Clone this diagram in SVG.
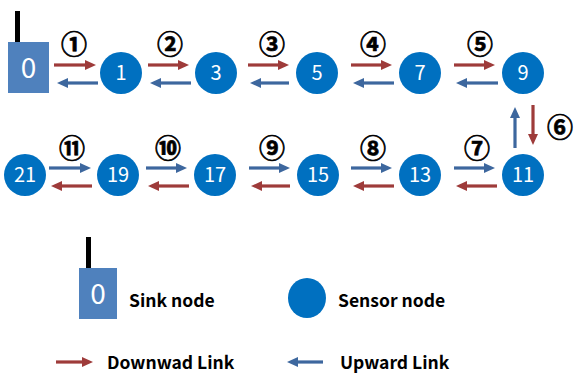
<svg xmlns="http://www.w3.org/2000/svg" width="574" height="374" viewBox="0 0 574 374">
<defs>
<marker id="hr" markerUnits="userSpaceOnUse" markerWidth="12" markerHeight="12" refX="0" refY="5" orient="auto" overflow="visible"><path d="M0,0 L11,5 L0,10 z" fill="#9E3B3A"/></marker>
<marker id="hb" markerUnits="userSpaceOnUse" markerWidth="12" markerHeight="12" refX="0" refY="5" orient="auto" overflow="visible"><path d="M0,0 L11,5 L0,10 z" fill="#3D679E"/></marker>
<style>
.dn{stroke:#9E3B3A;stroke-width:3.2;fill:none;marker-end:url(#hr)}
.up{stroke:#3D679E;stroke-width:3.2;fill:none;marker-end:url(#hb)}
.sn{fill:#0070C0}
.sink{fill:#4F81BD}
.ant{fill:#000}
.nt{font-family:"Noto Sans CJK KR","Noto Sans",sans-serif;font-size:20px;fill:#fff;text-anchor:middle}
.st{font-family:"Noto Sans CJK KR","Noto Sans",sans-serif;font-size:28px;fill:#fff;text-anchor:middle}
.cn{font-family:"Noto Sans CJK KR","DejaVu Sans",sans-serif;font-size:26px;font-weight:bold;fill:#000;stroke:#000;stroke-width:0.7;text-anchor:middle}
.lg{font-family:"Noto Sans CJK KR","Noto Sans",sans-serif;font-size:17.5px;font-weight:bold;fill:#000}
</style>
</defs>
<g id="sink0"><rect class="ant" x="15" y="11" width="5" height="31"/><rect class="sink" x="8" y="42" width="41" height="51"/><text class="st" x="28.5" y="78">0</text></g>
<g id="n1"><circle class="sn" cx="121" cy="73" r="21"/><text class="nt" x="121" y="80">1</text></g>
<g id="n3"><circle class="sn" cx="216" cy="73" r="21"/><text class="nt" x="216" y="80">3</text></g>
<g id="n5"><circle class="sn" cx="317" cy="73" r="21"/><text class="nt" x="317" y="80">5</text></g>
<g id="n7"><circle class="sn" cx="420" cy="73" r="21"/><text class="nt" x="420" y="80">7</text></g>
<g id="n9"><circle class="sn" cx="523" cy="73" r="21"/><text class="nt" x="523" y="80">9</text></g>
<g id="n21"><circle class="sn" cx="25" cy="175" r="21"/><text class="nt" x="25" y="182">21</text></g>
<g id="n19"><circle class="sn" cx="118" cy="175" r="21"/><text class="nt" x="118" y="182">19</text></g>
<g id="n17"><circle class="sn" cx="215" cy="175" r="21"/><text class="nt" x="215" y="182">17</text></g>
<g id="n15"><circle class="sn" cx="318" cy="175" r="21"/><text class="nt" x="318" y="182">15</text></g>
<g id="n13"><circle class="sn" cx="420" cy="175" r="21"/><text class="nt" x="420" y="182">13</text></g>
<g id="n11"><circle class="sn" cx="523" cy="175" r="21"/><text class="nt" x="523" y="182">11</text></g>
<g id="connectors">
<line class="dn" x1="54" y1="65" x2="85" y2="65"/><line class="up" x1="98" y1="83" x2="68" y2="83"/>
<line class="dn" x1="148" y1="65" x2="178" y2="65"/><line class="up" x1="191" y1="83" x2="161" y2="83"/>
<line class="dn" x1="248" y1="65" x2="278" y2="65"/><line class="up" x1="289" y1="83" x2="261" y2="83"/>
<line class="dn" x1="351" y1="65" x2="381" y2="65"/><line class="up" x1="394" y1="83" x2="364" y2="83"/>
<line class="dn" x1="454" y1="65" x2="484" y2="65"/><line class="up" x1="498" y1="83" x2="467" y2="83"/>
<line class="up" x1="515" y1="148" x2="515" y2="118"/><line class="dn" x1="533" y1="105" x2="533" y2="134"/>
<line class="up" x1="49" y1="168" x2="80" y2="168"/><line class="dn" x1="92" y1="186" x2="62" y2="186"/>
<line class="up" x1="146" y1="168" x2="176" y2="168"/><line class="dn" x1="189" y1="186" x2="159" y2="186"/>
<line class="up" x1="249" y1="168" x2="279" y2="168"/><line class="dn" x1="290" y1="186" x2="262" y2="186"/>
<line class="up" x1="351" y1="168" x2="381" y2="168"/><line class="dn" x1="394" y1="186" x2="364" y2="186"/>
<line class="up" x1="454" y1="168" x2="484" y2="168"/><line class="dn" x1="497" y1="186" x2="467" y2="186"/>
</g>
<g id="labels">
<text class="cn" x="74" y="54">①</text><text class="cn" x="170" y="54">②</text><text class="cn" x="272" y="54">③</text><text class="cn" x="373" y="54">④</text><text class="cn" x="480" y="54">⑤</text>
<text class="cn" x="560" y="137">⑥</text>
<text class="cn" x="477" y="158">⑦</text><text class="cn" x="373" y="158">⑧</text><text class="cn" x="272" y="158">⑨</text><text class="cn" x="168" y="158">⑩</text><text class="cn" x="72" y="158">⑪</text>
</g>
<g id="legend">
<g id="lg-sink"><rect class="ant" x="86" y="237" width="5" height="31"/><rect class="sink" x="79" y="268" width="38" height="51"/><text class="st" x="98" y="304">0</text><text class="lg" x="129" y="307">Sink node</text></g>
<g id="lg-sensor"><ellipse class="sn" cx="307" cy="298" rx="19" ry="20"/><text class="lg" x="338" y="307">Sensor node</text></g>
<g id="lg-down"><line class="dn" x1="56" y1="362" x2="82" y2="362"/><text class="lg" x="107" y="369">Downwad Link</text></g>
<g id="lg-up"><line class="up" x1="323" y1="362" x2="298" y2="362"/><text class="lg" x="340" y="369">Upward Link</text></g>
</g>
</svg>
